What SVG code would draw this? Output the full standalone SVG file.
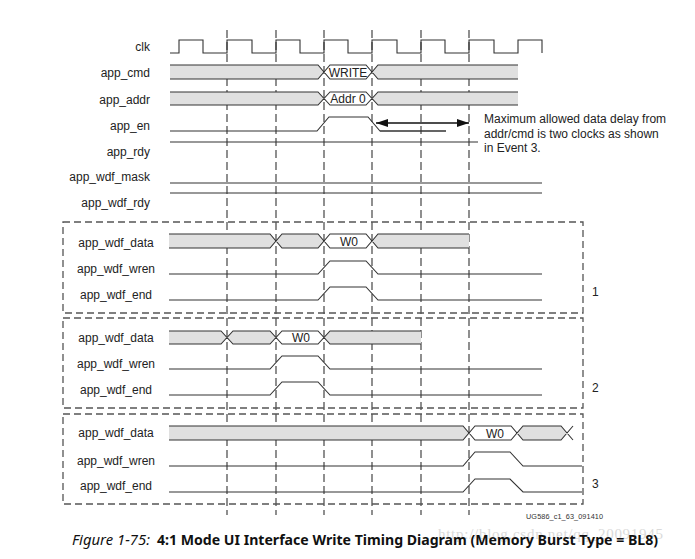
<svg xmlns="http://www.w3.org/2000/svg" width="695" height="559" viewBox="0 0 695 559">
<style>
.lbl{font-family:"Liberation Sans",Arial,sans-serif;font-size:12px;fill:#222}
.end{text-anchor:end}
.mid{text-anchor:middle}
.sig{fill:none;stroke:#333;stroke-width:1.1}
.bus{fill:#e0e0e0;stroke:none}
.vdash{fill:none;stroke:#333;stroke-width:1.1;stroke-dasharray:8 4}
.box{fill:none;stroke:#555;stroke-width:1.3;stroke-dasharray:7 4}
.cap{font-family:"Noto Sans","Open Sans",sans-serif;font-size:15px;fill:#111}
</style>
<defs>
<marker id="ah" viewBox="0 0 12 8" refX="12" refY="4" markerWidth="12" markerHeight="8" markerUnits="userSpaceOnUse" orient="auto-start-reverse">
<path d="M0,0 L12,4 L0,8 Z" fill="#111"/>
</marker>
</defs>
<rect width="695" height="559" fill="#fff"/>

<g id="gridlines">
<path class="vdash" d="M227,30 V515 M276,30 V515 M324,30 V515 M372,30 V515 M421,30 V515 M469,30 V515"/>
</g>

<g id="group1"><rect class="box" x="63" y="222" width="520" height="91"/><text class="lbl" x="592" y="296">1</text></g>
<g id="group2"><rect class="box" x="63" y="318" width="520" height="90"/><text class="lbl" x="592" y="392">2</text></g>
<g id="group3"><rect class="box" x="63" y="414" width="520" height="90"/><text class="lbl" x="592" y="488">3</text></g>

<g id="clk">
<text class="lbl end" x="150" y="51">clk</text>
<path class="sig" d="M170,53 H179 V40 H203 V53 H227 V40 H252 V53 H276 V40 H300 V53 H324 V40 H348 V53 H372 V40 H397 V53 H421 V40 H445 V53 H469 V40 H494 V53 H518 V40 H542 V53"/>
</g>

<g id="app_cmd">
<text class="lbl end" x="150" y="77">app_cmd</text>
<polygon class="bus" points="170,65 318,65 324,72 318,79 170,79"/>
<polygon class="bus" points="372,72 378,65 518,65 518,79 378,79"/>
<path class="sig" d="M170,65 H318 L330,79 H366 L378,65 H518 M170,79 H318 L330,65 H366 L378,79 H518"/>
<text class="lbl mid" x="348" y="76.5">WRITE</text>
</g>

<g id="app_addr">
<text class="lbl end" x="150" y="104">app_addr</text>
<polygon class="bus" points="170,92 318,92 324,98.5 318,105 170,105"/>
<polygon class="bus" points="372,98.5 378,92 518,92 518,105 378,105"/>
<path class="sig" d="M170,92 H318 L330,105 H366 L378,92 H518 M170,105 H318 L330,92 H366 L378,105 H518"/>
<text class="lbl mid" x="348" y="103">Addr 0</text>
</g>

<g id="app_en">
<text class="lbl end" x="150" y="130">app_en</text>
<path class="sig" d="M170,131 H317 L329,117 H368 L380,131 H446"/>
</g>

<g id="note">
<text class="lbl" x="484" y="123">Maximum allowed data delay from</text>
<text class="lbl" x="484" y="138">addr/cmd is two clocks as shown</text>
<text class="lbl" x="484" y="152">in Event 3.</text>
</g>

<g id="app_rdy">
<text class="lbl end" x="150" y="156">app_rdy</text>
<path class="sig" d="M170,142 H478"/>
</g>

<g id="app_wdf_mask">
<text class="lbl end" x="150" y="181">app_wdf_mask</text>
<path class="sig" d="M170,183 H542"/>
</g>

<g id="app_wdf_rdy">
<text class="lbl end" x="150" y="207">app_wdf_rdy</text>
<path class="sig" d="M170,193 H542"/>
</g>

<g id="g1_data">
<text class="lbl mid" x="116" y="247">app_wdf_data</text>
<polygon class="bus" points="169,234 270,234 276,241 270,248 169,248"/>
<polygon class="bus" points="276,241 282,234 318,234 324,241 318,248 282,248"/>
<polygon class="bus" points="372,241 378,234 469,234 469,248 378,248"/>
<path class="sig" d="M169,234 H270 L282,248 H318 L330,234 H366 L378,248 H469 M169,248 H270 L282,234 H318 L330,248 H366 L378,234 H469"/>
<text class="lbl mid" x="349" y="245.5">W0</text>
</g>
<g id="g1_wren">
<text class="lbl mid" x="116" y="273">app_wdf_wren</text>
<path class="sig" d="M169,274 H318 L330,261 H366 L378,274 H542"/>
</g>
<g id="g1_end">
<text class="lbl mid" x="116" y="299">app_wdf_end</text>
<path class="sig" d="M169,300 H318 L330,287 H366 L378,300 H542"/>
</g>

<g id="g2_data">
<text class="lbl mid" x="116" y="342">app_wdf_data</text>
<polygon class="bus" points="169,331 221,331 227,337.5 221,344 169,344"/>
<polygon class="bus" points="227,337.5 233,331 270,331 276,337.5 270,344 233,344"/>
<polygon class="bus" points="324,337.5 330,331 421,331 421,344 330,344"/>
<path class="sig" d="M169,331 H221 L233,344 H270 L282,331 H318 L330,344 H421 M169,344 H221 L233,331 H270 L282,344 H318 L330,331 H421"/>
<text class="lbl mid" x="301" y="342">W0</text>
</g>
<g id="g2_wren">
<text class="lbl mid" x="116" y="368">app_wdf_wren</text>
<path class="sig" d="M169,369 H270 L282,356 H318 L330,369 H542"/>
</g>
<g id="g2_end">
<text class="lbl mid" x="116" y="394">app_wdf_end</text>
<path class="sig" d="M169,395 H270 L282,382 H318 L330,395 H542"/>
</g>

<g id="g3_data">
<text class="lbl mid" x="116" y="437">app_wdf_data</text>
<polygon class="bus" points="169,426 463,426 469,433 463,440 169,440"/>
<polygon class="bus" points="517,433 523,426 561,426 567,433 561,440 523,440"/>
<path class="sig" d="M169,426 H463 L475,440 H511 L523,426 H561 L573,440 M169,440 H463 L475,426 H511 L523,440 H561 L573,426"/>
<text class="lbl mid" x="495" y="437.5">W0</text>
</g>
<g id="g3_wren">
<text class="lbl mid" x="116" y="465">app_wdf_wren</text>
<path class="sig" d="M169,466 H463 L475,452 H510 L523,466 H582"/>
</g>
<g id="g3_end">
<text class="lbl mid" x="116" y="490">app_wdf_end</text>
<path class="sig" d="M169,492 H463 L475,479 H510 L523,492 H582"/>
</g>

<g id="connectors">
<path d="M376,123 H469" fill="none" stroke="#111" stroke-width="1.3" marker-start="url(#ah)" marker-end="url(#ah)"/>
<path class="sig" d="M380,131 H446"/>
</g>

<text x="526" y="519" font-family="Liberation Sans,Arial,sans-serif" font-size="7.3" fill="#333" textLength="77">UG586_c1_63_091410</text>
<text x="438" y="539" font-family="Liberation Serif,serif" font-size="15" fill="#dadada" textLength="225">http://blog.csdn.net/qq_20091945</text>
<text class="cap" x="72" y="545" font-style="italic" fill="#222" textLength="78" lengthAdjust="spacingAndGlyphs">Figure 1-75:</text>
<text class="cap" x="157" y="545" font-weight="bold" textLength="501" lengthAdjust="spacingAndGlyphs">4:1 Mode UI Interface Write Timing Diagram (Memory Burst Type = BL8)</text>
</svg>
